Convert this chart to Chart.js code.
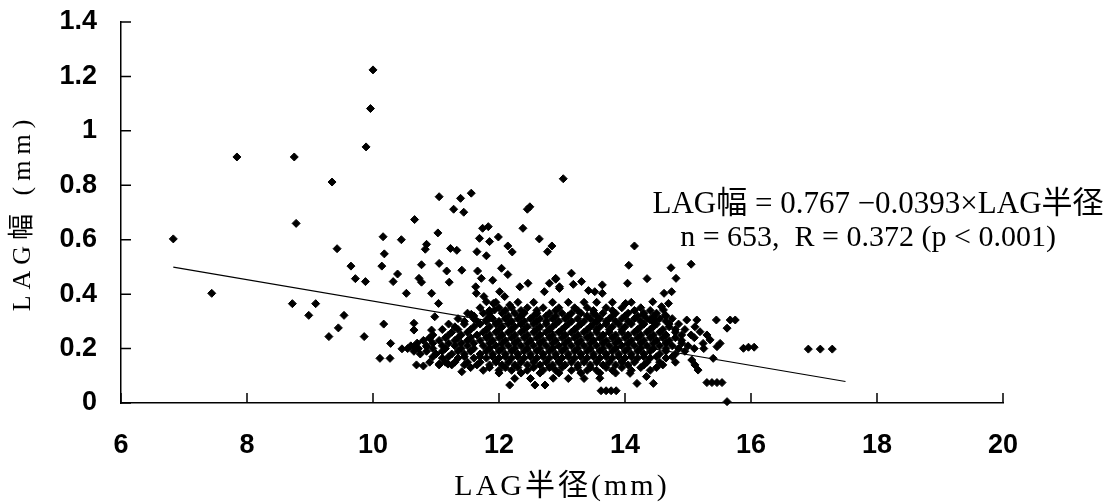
<!DOCTYPE html>
<html><head><meta charset="utf-8">
<script src="https://cdn.jsdelivr.net/npm/chart.js@4.4.1/dist/chart.umd.min.js"></script>
<style>html,body{margin:0;padding:0;background:#fff}#wrap{width:1117px;height:504px;position:relative}</style>
</head><body><div id="wrap"><canvas id="c"></canvas></div>
<script>
// ---- axis ticks ----
const xTickValues = [6, 8, 10, 12, 14, 16, 18, 20];
const xTickLabels = ['6', '8', '10', '12', '14', '16', '18', '20'];
const yTickValues = [0, 0.2, 0.4, 0.6, 0.8, 1.0, 1.2, 1.4];
const yTickLabels = ['0', '0.2', '0.4', '0.6', '0.8', '1', '1.2', '1.4'];

// ---- texts ----
const xTitle = 'LAG半径(mm)';
const yTitle = 'LAG幅 (mm)';
const eqLine1 = 'LAG幅 = 0.767 −0.0393×LAG半径';
const eqLine2 = 'n = 653,  R = 0.372 (p < 0.001)';

// ---- scattered points read individually (LAG半径 mm, LAG幅 mm) ----
const sparseX = [6.83,7.44,7.84,8.75,8.78,8.72,9.09,8.98,9.35,9.43,9.65,9.72,9.88,9.89,9.96,10.00,10.16,10.18,10.14,10.32,
  10.39,9.54,9.45,9.30,9.86,10.17,10.28,10.11,10.27,10.45,10.46,11.05,11.39,11.56,11.28,11.44,10.66,11.03,10.85,10.83,
  11.23,11.33,11.69,11.74,11.83,11.85,11.99,11.65,11.80,12.14,12.21,10.77,11.05,11.17,11.41,11.66,10.73,10.77,11.21,11.72,
  11.90,12.04,12.14,10.53,10.93,11.04,11.63,11.64,11.76,11.80,11.91,11.93,11.85,11.80,12.01,12.09,12.17,10.98,11.56,10.65,
  10.65,10.66,10.93,10.90,10.85,10.69,10.80,11.05,11.19,11.41,12.17,13.02,12.45,12.49,12.38,12.64,12.84,12.77,14.15,14.06,
  14.04,14.35,13.15,12.90,12.96,12.80,12.72,12.46,12.33,13.18,13.31,13.42,13.52,13.64,13.64,14.44,14.01,13.62,13.70,13.78,
  13.86,13.60,14.08,14.19,14.45,14.34,12.57,12.73,12.86,15.05,14.73,14.81,14.62,14.74,14.69,14.61,14.64,14.98,15.14,15.11,
  15.45,15.67,15.75,15.62,15.88,15.96,16.05,15.40,15.06,15.11,15.16,15.30,15.38,15.46,15.54,15.62,16.91,17.10,17.29,14.58,
  14.29,14.40,14.45,15.19,15.30,15.24,15.35,15.46,15.51,12.90,12.96];
const sparseY = [0.603,0.403,0.904,0.904,0.660,0.365,0.365,0.322,0.812,0.567,0.503,0.457,0.446,0.941,1.082,1.224,0.611,0.548,0.503,0.446,
  0.474,0.322,0.276,0.244,0.244,0.290,0.219,0.164,0.164,0.600,0.199,0.758,0.752,0.771,0.712,0.701,0.674,0.625,0.583,0.565,
  0.568,0.561,0.605,0.642,0.648,0.593,0.610,0.556,0.541,0.577,0.555,0.508,0.513,0.485,0.488,0.485,0.458,0.444,0.444,0.458,
  0.451,0.495,0.472,0.403,0.403,0.366,0.427,0.403,0.391,0.372,0.366,0.342,0.330,0.305,0.409,0.391,0.360,0.317,0.326,0.293,
  0.268,0.207,0.268,0.238,0.207,0.140,0.136,0.143,0.143,0.115,0.066,0.824,0.712,0.721,0.642,0.603,0.577,0.556,0.577,0.506,
  0.440,0.457,0.477,0.458,0.427,0.440,0.409,0.440,0.427,0.436,0.446,0.413,0.409,0.434,0.403,0.372,0.366,0.045,0.045,0.045,
  0.045,0.091,0.109,0.072,0.072,0.097,0.066,0.066,0.091,0.510,0.497,0.458,0.403,0.409,0.366,0.342,0.323,0.305,0.305,0.280,
  0.305,0.305,0.305,0.275,0.201,0.205,0.205,0.164,0.158,0.140,0.121,0.075,0.075,0.075,0.075,0.005,0.198,0.198,0.198,0.354,
  0.323,0.305,0.311,0.262,0.250,0.219,0.232,0.207,0.219,0.455,0.421];

// ---- dense core, read row by row: LAG幅 level and the LAG半径 values seen on it ----
const coreLevels = [0.37,0.35,0.34,0.33,0.32,0.31,0.30,0.29,0.28,0.27,0.26,0.25,0.24,0.23,0.22,0.21,0.20,0.19,0.18,0.17,0.165,0.15,0.14,0.13,0.12,0.11,0.09];
const coreRadii = [
  [11.95,12.3,12.55,12.85,13.1,13.35,13.55,13.8,14.1],
  [11.7,12.0,12.2,12.45,12.7,12.95,13.2,13.4,13.7,13.95,14.25],
  [11.85,12.1,12.35,12.6,12.9,13.25,13.5,13.8,14.15,14.4],
  [11.5,11.75,12.05,12.25,12.4,12.6,12.8,13.0,13.15,13.3,13.5,13.65,13.85,14.05,14.3,14.5],
  [11.6,11.85,12.15,12.35,12.55,12.75,12.9,13.1,13.4,13.55,13.8,14.0,14.2,14.45,14.65],
  [11.35,11.6,11.9,12.1,12.3,12.5,12.65,12.85,13.05,13.25,13.45,13.6,13.75,13.95,14.15,14.35,14.55,14.75],
  [11.45,11.65,11.8,12.0,12.2,12.4,12.6,12.75,12.95,13.15,13.35,13.55,13.7,13.85,14.05,14.25,14.45,14.65],
  [11.2,11.45,11.7,11.95,12.15,12.35,12.55,12.75,12.9,13.1,13.3,13.5,13.7,13.9,14.1,14.3,14.5,14.7,14.85],
  [11.3,11.6,11.85,12.05,12.25,12.45,12.65,12.85,13.05,13.25,13.45,13.6,13.8,14.0,14.25,14.45,14.7],
  [11.1,11.35,11.55,11.8,12.0,12.2,12.4,12.6,12.8,13.0,13.2,13.4,13.55,13.75,13.95,14.2,14.4,14.6,14.8,14.95],
  [11.25,11.5,11.75,11.95,12.15,12.35,12.55,12.75,12.95,13.15,13.35,13.55,13.75,13.95,14.15,14.35,14.55,14.8],
  [10.95,11.2,11.4,11.65,11.85,12.05,12.25,12.45,12.65,12.85,13.05,13.25,13.45,13.65,13.85,14.05,14.25,14.45,14.65,14.9,15.05],
  [10.9,11.15,11.35,11.55,11.8,12.0,12.2,12.4,12.6,12.8,13.0,13.2,13.4,13.6,13.8,14.0,14.2,14.4,14.6,14.8,15.1],
  [10.8,11.05,11.3,11.5,11.7,11.9,12.1,12.3,12.5,12.7,12.9,13.1,13.3,13.5,13.7,13.9,14.1,14.3,14.5,14.7,14.9],
  [10.7,10.95,11.2,11.4,11.6,11.85,12.05,12.25,12.45,12.65,12.85,13.05,13.25,13.45,13.65,13.85,14.05,14.25,14.45,14.65,14.9],
  [10.6,10.85,11.1,11.3,11.5,11.75,11.95,12.15,12.35,12.55,12.75,12.95,13.15,13.35,13.55,13.75,13.95,14.15,14.35,14.55,14.75,15.0],
  [10.55,10.72,10.95,11.15,11.4,11.6,11.85,12.05,12.25,12.45,12.65,12.85,13.05,13.25,13.45,13.65,13.85,14.05,14.25,14.45,14.65,14.85,15.1,15.25],
  [10.65,10.85,11.1,11.35,11.55,11.8,12.0,12.2,12.4,12.6,12.8,13.0,13.2,13.4,13.6,13.8,14.0,14.2,14.4,14.65,14.95],
  [10.75,11.0,11.25,11.45,11.7,11.9,12.1,12.3,12.5,12.7,12.9,13.1,13.3,13.5,13.7,13.9,14.1,14.3,14.55,14.8],
  [10.95,11.2,11.45,11.7,11.9,12.1,12.3,12.5,12.7,12.9,13.1,13.3,13.5,13.7,13.9,14.1,14.3,14.5,14.75],
  [11.1,11.35,11.6,11.8,12.0,12.2,12.4,12.6,12.8,13.0,13.2,13.4,13.6,13.8,14.0,14.2,14.4,14.65],
  [10.9,11.15,11.3,11.5,11.7,11.95,12.15,12.35,12.55,12.75,12.95,13.15,13.35,13.55,13.75,13.95,14.15,14.35,14.55,14.8],
  [11.05,11.25,11.45,11.65,11.85,12.05,12.25,12.45,12.65,12.85,13.05,13.25,13.45,13.65,13.85,14.05,14.3,14.6],
  [11.55,11.85,12.1,12.3,12.55,12.8,13.0,13.25,13.45,13.7,13.95,14.25,14.5],
  [11.75,12.0,12.2,12.45,12.7,12.9,13.15,13.4,13.55,13.8,14.1,14.4],
  [12.0,12.35,12.65,12.95,13.3,13.6,13.85],
  [12.25,12.5,13.1,13.35]
];

// ---- regression line end points (as drawn) ----
const fitX = [6.83, 17.5];
const fitY = [0.499, 0.079];

const points = sparseX.map((x, i) => ({x, y: sparseY[i]}));
coreLevels.forEach((lv, r) => coreRadii[r].forEach(x => points.push({x, y: lv})));
const fitPoints = fitX.map((x, i) => ({x, y: fitY[i]}));

const serif = '"Liberation Serif", "Noto Sans CJK JP", serif';

const deco = {
  id: 'deco',
  beforeDatasetsDraw(chart) {
    const ctx = chart.ctx, xs = chart.scales.x, ys = chart.scales.y, a = chart.chartArea;
    ctx.save();
    ctx.strokeStyle = '#000';
    ctx.lineWidth = 1.5;
    ctx.beginPath();
    xs.ticks.forEach(t => {
      const px = xs.getPixelForValue(t.value);
      ctx.moveTo(px, a.bottom); ctx.lineTo(px, a.bottom - 10);
    });
    ys.ticks.forEach(t => {
      const py = ys.getPixelForValue(t.value);
      ctx.moveTo(a.left, py); ctx.lineTo(a.left + 10, py);
    });
    ctx.stroke();
    ctx.restore();
  },
  afterDraw(chart) {
    const ctx = chart.ctx, a = chart.chartArea;
    ctx.save();
    ctx.fillStyle = '#000';
    ctx.textAlign = 'center';
    ctx.textBaseline = 'middle';
    // annotation
    ctx.font = '31px ' + serif;
    ctx.fillText(eqLine1, 878, 205);
    ctx.font = '30px ' + serif;
    ctx.fillText(eqLine2, 868, 238);
    // x title
    ctx.font = '30px ' + serif;
    try { ctx.letterSpacing = '3px'; } catch (e) {}
    ctx.fillText(xTitle, (a.left + a.right) / 2, 487);
    // y title
    ctx.font = '26px ' + serif;
    try { ctx.letterSpacing = '6px'; } catch (e) {}
    ctx.translate(23, (a.top + a.bottom) / 2);
    ctx.rotate(-Math.PI / 2);
    ctx.fillText(yTitle, 0, 0);
    ctx.restore();
  }
};

const tickFont = {family: '"Liberation Sans", Arial, sans-serif', weight: 'bold', size: 27};

new Chart(document.getElementById('c'), {
  type: 'scatter',
  data: {
    datasets: [
      {
        data: points,
        pointStyle: 'rectRot',
        radius: 4,
        borderWidth: 1,
        backgroundColor: '#000',
        borderColor: '#000',
        clip: false
      },
      {
        type: 'line',
        data: fitPoints,
        showLine: true,
        borderColor: '#000',
        borderWidth: 1.2,
        pointRadius: 0,
        fill: false
      }
    ]
  },
  options: {
    responsive: true,
    maintainAspectRatio: false,
    animation: false,
    events: [],
    layout: {padding: {top: 22, right: 114, left: 0, bottom: 0}},
    plugins: {legend: {display: false}, tooltip: {enabled: false}},
    scales: {
      x: {
        type: 'linear', min: 6, max: 20,
        afterBuildTicks: s => { s.ticks = xTickValues.map(v => ({value: v})); },
        ticks: {color: '#000', font: tickFont, padding: 26, maxRotation: 0,
          callback: (v, i) => xTickLabels[i]},
        grid: {display: false, drawTicks: false},
        border: {display: true, color: '#000', width: 1.5},
        afterFit: s => { s.height = 101; s.paddingLeft = 0; s.paddingRight = 0; }
      },
      y: {
        type: 'linear', min: 0, max: 1.4,
        afterBuildTicks: s => { s.ticks = yTickValues.map(v => ({value: v})); },
        ticks: {color: '#000', font: tickFont, padding: 24,
          callback: (v, i) => yTickLabels[i]},
        grid: {display: false, drawTicks: false},
        border: {display: true, color: '#000', width: 1.5},
        afterFit: s => { s.width = 121; s.paddingTop = 0; s.paddingBottom = 0; }
      }
    }
  },
  plugins: [deco]
});
</script>
</body></html>
